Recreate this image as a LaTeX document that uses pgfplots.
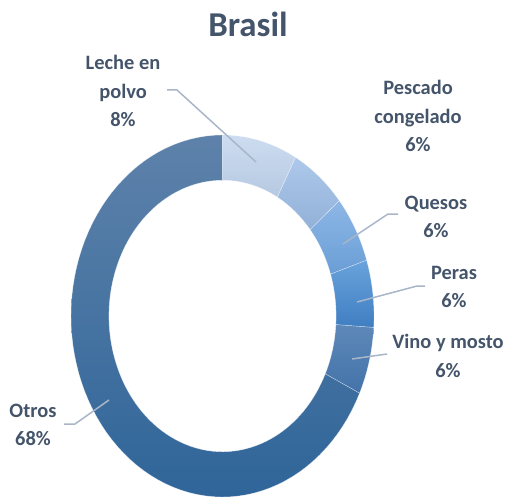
\documentclass[border=0pt]{standalone}
\usepackage{pgfplots}
\pgfplotsset{compat=1.18}
\usepackage{fontspec}
\setmainfont{Carlito}

\definecolor{txt}{HTML}{44546A}
\definecolor{lead}{HTML}{A9B6C9}
\definecolor{lecheT}{HTML}{CDDCF0}\definecolor{lecheB}{HTML}{B6C9E2}
\definecolor{pescT}{HTML}{ADC8EA}\definecolor{pescB}{HTML}{92B1D8}
\definecolor{quesT}{HTML}{8DB7E6}\definecolor{quesB}{HTML}{6A9ED6}
\definecolor{perT}{HTML}{6AA3DC}\definecolor{perB}{HTML}{3F7EC2}
\definecolor{vinoT}{HTML}{5E88B8}\definecolor{vinoB}{HTML}{4373AA}
\definecolor{otrT}{HTML}{5E82AA}\definecolor{otrB}{HTML}{2F6599}

% shares (%), clockwise from 12 o'clock
\def\pLeche{8}\def\pPescado{6}\def\pQuesos{6}\def\pPeras{6}\def\pVino{6}\def\pOtros{68}
\pgfmathsetmacro\aA{90}
\pgfmathsetmacro\aB{\aA-3.6*\pLeche}
\pgfmathsetmacro\aC{\aB-3.6*\pPescado}
\pgfmathsetmacro\aD{\aC-3.6*\pQuesos}
\pgfmathsetmacro\aE{\aD-3.6*\pPeras}
\pgfmathsetmacro\aF{\aE-3.6*\pVino}
\pgfmathsetmacro\aG{\aF-3.6*\pOtros}

% ring segment: from angle #1 to #2 (ccw), style #3
\newcommand{\ring}[3]{%
  \addplot[#3, draw=white, draw opacity=0.55, line width=0.4bp, data cs=polar, domain=#1:#2, samples=80]
    ({x},{1}) -- (axis cs:{0.75*cos(#2)},{0.75*sin(#2)})
    arc[start angle=#2, end angle=#1, x radius=113.6bp, y radius=135.75bp] -- cycle;
}

\begin{document}
\begin{tikzpicture}
\begin{scope}[x=1bp,y=-1bp]
  \useasboundingbox (0,0) rectangle (506,498);
\end{scope}

\begin{axis}[at={(222.5bp,-316bp)}, anchor=center, scale only axis,
    width=303bp, height=362bp, xmin=-1, xmax=1, ymin=-1, ymax=1,
    axis lines=none, clip=false]
  \ring{\aG}{\aF}{top color=otrT, bottom color=otrB}
  \ring{\aF}{\aE}{top color=vinoT, bottom color=vinoB}
  \ring{\aE}{\aD}{top color=perT, bottom color=perB}
  \ring{\aD}{\aC}{top color=quesT, bottom color=quesB}
  \ring{\aC}{\aB}{top color=pescT, bottom color=pescB}
  \ring{\aB}{\aA}{top color=lecheT, bottom color=lecheB}
\end{axis}

\begin{scope}[x=1bp,y=-1bp]
  \node[anchor=base, text=txt, font=\fontsize{35}{40}\selectfont\bfseries] at (248,37) {Brasil};

  \tikzset{lab/.style={align=center, text=txt, font=\fontsize{20.5}{28.5}\selectfont\bfseries, inner sep=0pt}}
  \node[lab] at (123,91) {Leche en\\polvo\\8\%};
  \node[lab] at (418,116) {Pescado\\congelado\\6\%};
  \node[lab] at (436,217) {Quesos\\6\%};
  \node[lab] at (454,287) {Peras\\6\%};
  \node[lab] at (448,356) {Vino y mosto\\6\%};
  \node[lab] at (33,425) {Otros\\68\%};

  \draw[lead, line width=1.5bp] (167,90) -- (177,90) -- (256,162);
  \draw[lead, line width=1.5bp] (398,214) -- (388,214) -- (343,244);
  \draw[lead, line width=1.5bp] (425,286) -- (417,286) -- (357,302);
  \draw[lead, line width=1.5bp] (387,354) -- (352,359);
  \draw[lead, line width=1.5bp] (64,424) -- (75,424) -- (109,400);
\end{scope}
\end{tikzpicture}
\end{document}
